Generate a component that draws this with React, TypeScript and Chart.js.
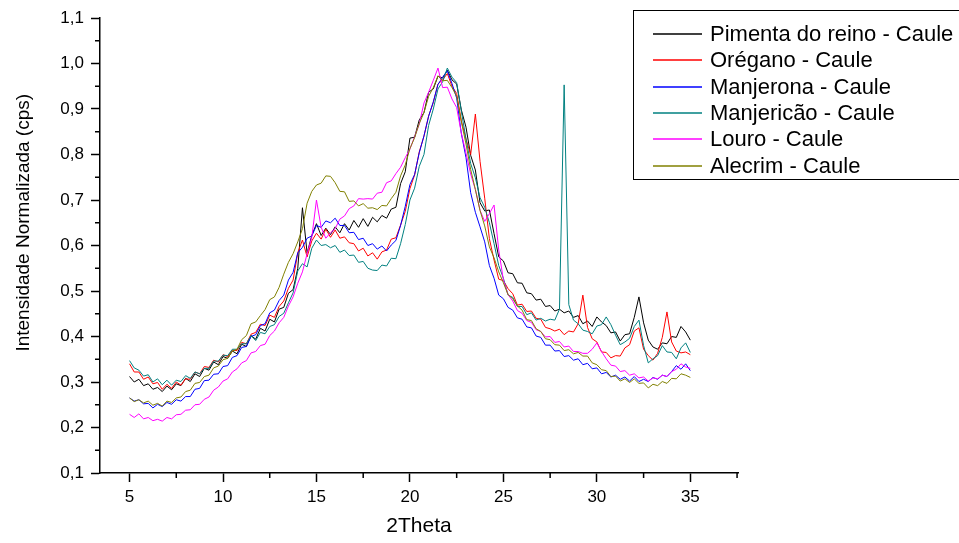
import React, { useEffect, useRef } from "react";
import { Chart, registerables } from "chart.js";

Chart.register(...registerables);

const FONT = '"Liberation Sans", Arial, Helvetica, sans-serif';

const twoTheta = [
  5, 5.25, 5.5, 5.75, 6, 6.25, 6.5, 6.75, 7, 7.25,
  7.5, 7.75, 8, 8.25, 8.5, 8.75, 9, 9.25, 9.5, 9.75,
  10, 10.25, 10.5, 10.75, 11, 11.25, 11.5, 11.75, 12, 12.25,
  12.5, 12.75, 13, 13.25, 13.5, 13.75, 14, 14.25, 14.5, 14.75,
  15, 15.25, 15.5, 15.75, 16, 16.25, 16.5, 16.75, 17, 17.25,
  17.5, 17.75, 18, 18.25, 18.5, 18.75, 19, 19.25, 19.5, 19.75,
  20, 20.25, 20.5, 20.75, 21, 21.25, 21.5, 21.75, 22, 22.25,
  22.5, 22.75, 23, 23.25, 23.5, 23.75, 24, 24.25, 24.5, 24.75,
  25, 25.25, 25.5, 25.75, 26, 26.25, 26.5, 26.75, 27, 27.25,
  27.5, 27.75, 28, 28.25, 28.5, 28.75, 29, 29.25, 29.5, 29.75,
  30, 30.25, 30.5, 30.75, 31, 31.25, 31.5, 31.75, 32, 32.25,
  32.5, 32.75, 33, 33.25, 33.5, 33.75, 34, 34.25, 34.5, 34.75,
  35,
];

const pimenta = [
  0.312, 0.300, 0.306, 0.292, 0.296, 0.284, 0.288, 0.279, 0.291, 0.283,
  0.296, 0.292, 0.308, 0.301, 0.318, 0.312, 0.330, 0.326, 0.344, 0.338,
  0.356, 0.352, 0.368, 0.362, 0.383, 0.378, 0.402, 0.394, 0.418, 0.412,
  0.438, 0.432, 0.460, 0.464, 0.495, 0.503, 0.550, 0.683, 0.583, 0.622,
  0.648, 0.622, 0.638, 0.624, 0.641, 0.628, 0.648, 0.634, 0.655, 0.640,
  0.659, 0.642, 0.662, 0.652, 0.666, 0.660, 0.680, 0.684, 0.736, 0.762,
  0.836, 0.838, 0.876, 0.892, 0.937, 0.944, 0.972, 0.968, 0.985, 0.964,
  0.955, 0.898, 0.860, 0.798, 0.766, 0.694, 0.676, 0.678, 0.626, 0.575,
  0.566, 0.540, 0.538, 0.518, 0.517, 0.496, 0.494, 0.480, 0.482, 0.466,
  0.468, 0.456, 0.460, 0.452, 0.456, 0.442, 0.446, 0.428, 0.434, 0.422,
  0.443, 0.432, 0.424, 0.408, 0.410, 0.390, 0.404, 0.406, 0.442, 0.487,
  0.430, 0.392, 0.377, 0.372, 0.386, 0.384, 0.400, 0.398, 0.422, 0.410,
  0.392,
];

const oregano = [
  0.340, 0.322, 0.322, 0.306, 0.311, 0.296, 0.299, 0.284, 0.295, 0.286,
  0.300, 0.293, 0.307, 0.306, 0.322, 0.318, 0.334, 0.332, 0.348, 0.344,
  0.360, 0.356, 0.370, 0.369, 0.387, 0.384, 0.405, 0.409, 0.427, 0.424,
  0.447, 0.442, 0.466, 0.478, 0.506, 0.524, 0.584, 0.612, 0.575, 0.610,
  0.627, 0.614, 0.636, 0.618, 0.634, 0.616, 0.619, 0.606, 0.604, 0.588,
  0.594, 0.577, 0.584, 0.570, 0.586, 0.590, 0.614, 0.617, 0.645, 0.675,
  0.725, 0.755, 0.806, 0.840, 0.885, 0.914, 0.955, 0.964, 0.978, 0.950,
  0.934, 0.874, 0.834, 0.800, 0.889, 0.785, 0.704, 0.615, 0.568, 0.526,
  0.523, 0.505, 0.494, 0.469, 0.471, 0.455, 0.456, 0.440, 0.438, 0.420,
  0.417, 0.412, 0.416, 0.404, 0.412, 0.410, 0.428, 0.491, 0.420, 0.395,
  0.388, 0.366, 0.365, 0.353, 0.358, 0.357, 0.375, 0.382, 0.412, 0.419,
  0.372, 0.358, 0.348, 0.363, 0.398, 0.454, 0.388, 0.368, 0.364, 0.366,
  0.360,
];

const manjerona = [
  0.265, 0.258, 0.261, 0.252, 0.253, 0.243, 0.251, 0.246, 0.255, 0.251,
  0.261, 0.258, 0.268, 0.268, 0.284, 0.286, 0.303, 0.304, 0.317, 0.318,
  0.334, 0.336, 0.354, 0.358, 0.376, 0.378, 0.400, 0.404, 0.424, 0.428,
  0.452, 0.458, 0.479, 0.491, 0.524, 0.541, 0.584, 0.596, 0.616, 0.621,
  0.644, 0.640, 0.654, 0.650, 0.660, 0.644, 0.644, 0.628, 0.629, 0.613,
  0.616, 0.600, 0.604, 0.592, 0.599, 0.588, 0.601, 0.611, 0.644, 0.686,
  0.734, 0.756, 0.804, 0.841, 0.884, 0.916, 0.954, 0.970, 0.984, 0.956,
  0.924, 0.846, 0.793, 0.716, 0.673, 0.641, 0.608, 0.556, 0.528, 0.491,
  0.483, 0.464, 0.458, 0.441, 0.438, 0.421, 0.419, 0.401, 0.398, 0.381,
  0.381, 0.368, 0.369, 0.356, 0.358, 0.348, 0.351, 0.338, 0.341, 0.329,
  0.331, 0.318, 0.321, 0.311, 0.315, 0.306, 0.311, 0.302, 0.312, 0.301,
  0.306, 0.301, 0.310, 0.306, 0.315, 0.312, 0.323, 0.336, 0.328, 0.340,
  0.325,
];

const manjericao = [
  0.347, 0.331, 0.326, 0.313, 0.316, 0.300, 0.307, 0.294, 0.304, 0.293,
  0.304, 0.301, 0.314, 0.308, 0.322, 0.318, 0.330, 0.330, 0.346, 0.346,
  0.359, 0.358, 0.372, 0.372, 0.384, 0.384, 0.402, 0.391, 0.409, 0.406,
  0.422, 0.426, 0.444, 0.451, 0.474, 0.496, 0.544, 0.560, 0.553, 0.594,
  0.612, 0.600, 0.602, 0.595, 0.600, 0.585, 0.590, 0.578, 0.579, 0.563,
  0.565, 0.550, 0.546, 0.545, 0.557, 0.555, 0.572, 0.571, 0.604, 0.646,
  0.700, 0.726, 0.774, 0.800, 0.864, 0.900, 0.944, 0.960, 0.990, 0.970,
  0.958, 0.895, 0.834, 0.780, 0.749, 0.705, 0.684, 0.650, 0.604, 0.556,
  0.528, 0.491, 0.486, 0.466, 0.466, 0.448, 0.452, 0.436, 0.440, 0.434,
  0.438, 0.436, 0.460, 0.953, 0.470, 0.436, 0.428, 0.414, 0.411, 0.406,
  0.423, 0.426, 0.443, 0.426, 0.403, 0.382, 0.388, 0.396, 0.422, 0.436,
  0.380, 0.342, 0.351, 0.358, 0.380, 0.366, 0.365, 0.351, 0.375, 0.386,
  0.365,
];

const louro = [
  0.229, 0.222, 0.230, 0.219, 0.222, 0.215, 0.218, 0.214, 0.222, 0.219,
  0.228, 0.229, 0.238, 0.239, 0.250, 0.251, 0.262, 0.267, 0.282, 0.289,
  0.302, 0.307, 0.322, 0.329, 0.342, 0.347, 0.364, 0.367, 0.380, 0.383,
  0.402, 0.412, 0.430, 0.442, 0.467, 0.487, 0.517, 0.542, 0.582, 0.618,
  0.700, 0.640, 0.616, 0.628, 0.637, 0.658, 0.665, 0.681, 0.687, 0.703,
  0.702, 0.703, 0.702, 0.715, 0.717, 0.738, 0.742, 0.758, 0.772, 0.793,
  0.812, 0.839, 0.867, 0.913, 0.937, 0.963, 0.990, 0.947, 0.948, 0.922,
  0.903, 0.847, 0.803, 0.757, 0.723, 0.677, 0.653, 0.670, 0.689, 0.590,
  0.524, 0.492, 0.478, 0.457, 0.451, 0.435, 0.431, 0.415, 0.411, 0.399,
  0.400, 0.387, 0.389, 0.377, 0.379, 0.367, 0.367, 0.363, 0.363, 0.372,
  0.386, 0.367, 0.351, 0.337, 0.335, 0.323, 0.325, 0.315, 0.318, 0.309,
  0.311, 0.302, 0.309, 0.307, 0.315, 0.312, 0.323, 0.328, 0.340, 0.333,
  0.330,
];

const alecrim = [
  0.265, 0.257, 0.261, 0.254, 0.258, 0.249, 0.253, 0.247, 0.258, 0.255,
  0.265, 0.267, 0.279, 0.282, 0.297, 0.299, 0.312, 0.315, 0.331, 0.335,
  0.349, 0.352, 0.368, 0.372, 0.393, 0.402, 0.428, 0.432, 0.446, 0.459,
  0.481, 0.487, 0.508, 0.537, 0.563, 0.582, 0.608, 0.637, 0.693, 0.719,
  0.733, 0.737, 0.753, 0.752, 0.738, 0.719, 0.718, 0.697, 0.698, 0.687,
  0.692, 0.682, 0.683, 0.679, 0.688, 0.687, 0.703, 0.717, 0.753, 0.777,
  0.813, 0.837, 0.868, 0.892, 0.928, 0.947, 0.973, 0.962, 0.963, 0.947,
  0.928, 0.872, 0.823, 0.767, 0.723, 0.677, 0.643, 0.597, 0.573, 0.542,
  0.518, 0.492, 0.483, 0.467, 0.458, 0.437, 0.435, 0.417, 0.411, 0.395,
  0.393, 0.382, 0.381, 0.369, 0.371, 0.362, 0.365, 0.357, 0.357, 0.342,
  0.338, 0.327, 0.325, 0.312, 0.313, 0.302, 0.307, 0.299, 0.307, 0.297,
  0.298, 0.287, 0.295, 0.292, 0.301, 0.297, 0.308, 0.307, 0.318, 0.315,
  0.310,
];

const seriesValues = [pimenta, oregano, manjerona, manjericao, louro, alecrim];
const seriesLabels = [
  "Pimenta do reino - Caule",
  "Orégano - Caule",
  "Manjerona - Caule",
  "Manjericão - Caule",
  "Louro - Caule",
  "Alecrim - Caule",
];
const seriesColors = ["#000000", "#FF0000", "#0000FF", "#008080", "#FF00FF", "#808000"];

const xTickValues = [5, 10, 15, 20, 25, 30, 35];
const xMinorValues = [7.5, 12.5, 17.5, 22.5, 27.5, 32.5, 37.5];
const yTickValues = [0.1, 0.2, 0.3, 0.4, 0.5, 0.6, 0.7, 0.8, 0.9, 1.0, 1.1];
const yMinorValues = [0.15, 0.25, 0.35, 0.45, 0.55, 0.65, 0.75, 0.85, 0.95, 1.05];
const xTitle = "2Theta";
const yTitle = "Intensidade Normalizada (cps)";

const decorations = {
  id: "decorations",
  afterDraw(chart: any) {
    const ctx = chart.ctx as CanvasRenderingContext2D;
    const { left, right, top, bottom } = chart.chartArea;
    const xs = chart.scales.x;
    const ys = chart.scales.y;
    ctx.save();
    // minor ticks
    ctx.strokeStyle = "#000";
    ctx.lineWidth = 1.5;
    ctx.beginPath();
    yMinorValues.forEach((v) => {
      const p = ys.getPixelForValue(v);
      ctx.moveTo(left - 5, p);
      ctx.lineTo(left, p);
    });
    xMinorValues.forEach((v) => {
      const p = xs.getPixelForValue(v);
      ctx.moveTo(p, bottom);
      ctx.lineTo(p, bottom + 5);
    });
    ctx.stroke();

    // axis titles
    ctx.fillStyle = "#000";
    ctx.textAlign = "center";
    ctx.textBaseline = "middle";
    ctx.font = `21px ${FONT}`;
    ctx.fillText(xTitle, (left + right) / 2, 526);
    ctx.save();
    ctx.translate(24, top + (bottom - top) * 0.45);
    ctx.rotate(-Math.PI / 2);
    ctx.font = `19px ${FONT}`;
    ctx.fillText(yTitle, 0, 0);
    ctx.restore();

    // legend box
    const bx = 633.5;
    const by = 10.5;
    ctx.fillStyle = "#fff";
    ctx.fillRect(bx, by, 400, 169);
    ctx.strokeStyle = "#000";
    ctx.lineWidth = 1;
    ctx.strokeRect(bx, by, 400, 169);
    ctx.font = `22px ${FONT}`;
    ctx.textAlign = "left";
    ctx.textBaseline = "middle";
    seriesLabels.forEach((label, i) => {
      const y = Math.round(34 + i * 26.3);
      ctx.strokeStyle = seriesColors[i];
      ctx.lineWidth = 1.4;
      ctx.beginPath();
      ctx.moveTo(653, y);
      ctx.lineTo(702, y);
      ctx.stroke();
      ctx.fillStyle = "#000";
      ctx.fillText(label, 710, y + 1);
    });
    ctx.restore();
  },
};

export default function App() {
  const canvasRef = useRef<HTMLCanvasElement | null>(null);

  useEffect(() => {
    document.body.style.margin = "0";
    const canvas = canvasRef.current;
    if (!canvas) return;
    const chart = new Chart(canvas, {
      type: "line",
      data: {
        datasets: seriesValues.map((vals, i) => ({
          label: seriesLabels[i],
          data: twoTheta.map((x, j) => ({ x, y: vals[j] })),
          borderColor: seriesColors[i],
          backgroundColor: seriesColors[i],
          borderWidth: 1,
          pointRadius: 0,
          fill: false,
          tension: 0,
          order: seriesValues.length - i,
        })),
      },
      options: {
        responsive: false,
        animation: false,
        devicePixelRatio: 1,
        layout: { padding: { left: 0, right: 221, top: 18, bottom: 0 } },
        plugins: {
          legend: { display: false },
          tooltip: { enabled: false },
        },
        scales: {
          x: {
            type: "linear",
            min: 3.42,
            max: 37.55,
            afterFit: (s: any) => {
              s.height = 70;
            },
            afterBuildTicks: (s: any) => {
              s.ticks = xTickValues.map((v) => ({ value: v }));
            },
            grid: {
              drawOnChartArea: false,
              drawTicks: true,
              tickLength: 9,
              tickWidth: 1.5,
              tickColor: "#000",
            },
            border: { display: true, color: "#000", width: 1.5 },
            ticks: {
              color: "#000",
              font: { family: FONT, size: 17 },
              padding: 5,
              maxRotation: 0,
              autoSkip: false,
              callback: (v: any) => String(v),
            },
          },
          y: {
            type: "linear",
            min: 0.1,
            max: 1.1,
            afterFit: (s: any) => {
              s.width = 100;
            },
            afterBuildTicks: (s: any) => {
              s.ticks = yTickValues.map((v) => ({ value: v }));
            },
            grid: {
              drawOnChartArea: false,
              drawTicks: true,
              tickLength: 9,
              tickWidth: 1.5,
              tickColor: "#000",
            },
            border: { display: true, color: "#000", width: 1.5 },
            ticks: {
              color: "#000",
              font: { family: FONT, size: 17 },
              padding: 7,
              autoSkip: false,
              callback: (v: any) => Number(v).toFixed(1).replace(".", ","),
            },
          },
        },
      },
      plugins: [decorations],
    });
    return () => chart.destroy();
  }, []);

  return (
    <div style={{ width: 959, height: 543, position: "relative" }}>
      <canvas ref={canvasRef} width={959} height={543} style={{ width: 959, height: 543, display: "block" }} />
    </div>
  );
}
